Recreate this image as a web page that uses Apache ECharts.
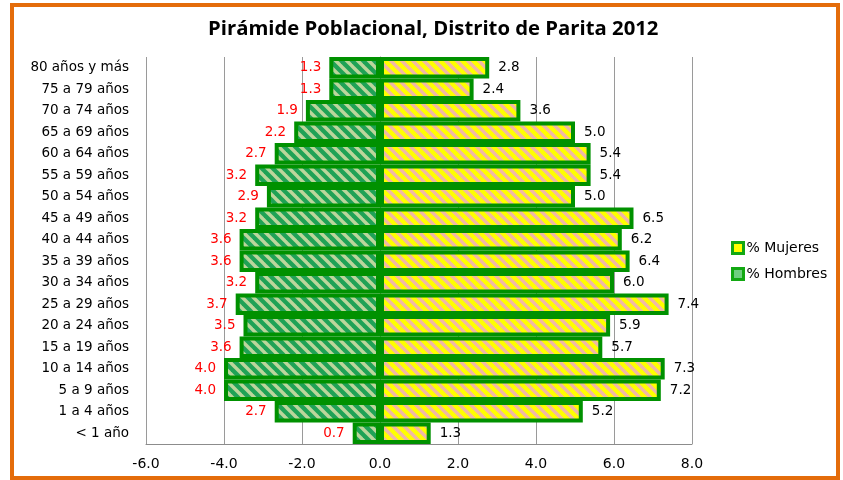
<!DOCTYPE html>
<html>
<head>
<meta charset="utf-8">
<script src="https://cdn.jsdelivr.net/npm/echarts@6/dist/echarts.min.js"></script>
<style>
  html, body { margin: 0; padding: 0; background: #fff; }
  #chart { width: 843px; height: 480px; }
</style>
</head>
<body>
<div id="chart"></div>
<script>
// age groups, bottom to top
const ageGroups = [
  "< 1 año", "1 a 4 años", "5 a 9 años", "10 a 14 años", "15 a 19 años",
  "20 a 24 años", "25 a 29 años", "30 a 34 años", "35 a 39 años", "40 a 44 años",
  "45 a 49 años", "50 a 54 años", "55 a 59 años", "60 a 64 años", "65 a 69 años",
  "70 a 74 años", "75 a 79 años", "80 años y más",
];
const hombres = [0.7, 2.7, 4.0, 4.0, 3.6, 3.5, 3.7, 3.2, 3.6, 3.6, 3.2, 2.9, 3.2, 2.7, 2.2, 1.9, 1.3, 1.3];
const mujeres = [1.3, 5.2, 7.2, 7.3, 5.7, 5.9, 7.4, 6.0, 6.4, 6.2, 6.5, 5.0, 5.4, 5.4, 5.0, 3.6, 2.4, 2.8];
const xTicks = [-6, -4, -2, 0, 2, 4, 6, 8];

const FONT = "'DejaVu Sans', sans-serif";
const GREEN = "#009100";

// diagonal hatch fill, stripes running top-left to bottom-right
function hatch(bg, stripe) {
  const size = 11;
  const c = document.createElement("canvas");
  c.width = size;
  c.height = size;
  const ctx = c.getContext("2d");
  ctx.fillStyle = bg;
  ctx.fillRect(0, 0, size, size);
  ctx.strokeStyle = stripe;
  ctx.lineWidth = 3.4;
  for (let k = -1; k <= 1; k++) {
    ctx.beginPath();
    ctx.moveTo(k * size - 2, -2);
    ctx.lineTo(k * size + size + 2, size + 2);
    ctx.stroke();
  }
  return { image: c, repeat: "repeat" };
}

const chart = echarts.init(document.getElementById("chart"));

chart.setOption({
  animation: false,
  title: {
    text: "Pirámide Poblacional, Distrito de Parita 2012",
    left: 203,
    top: 14,
    textStyle: { fontFamily: "'Open Sans', sans-serif", fontSize: 20.3, fontWeight: "bold", color: "#000" },
  },
  graphic: [{
    type: "rect",
    shape: { x: 12, y: 5, width: 826, height: 473 },
    style: { fill: "none", stroke: "#e46c0a", lineWidth: 4 },
    silent: true,
  }],
  legend: {
    orient: "vertical",
    left: 726,
    top: 236,
    itemGap: 12,
    itemWidth: 11,
    itemHeight: 11,
    icon: "rect",
    textStyle: { fontFamily: FONT, fontSize: 14, color: "#000", padding: [0, 0, 0, -2] },
    data: [
      { name: "% Mujeres", itemStyle: { color: "#ffff00", borderColor: "#12a812", borderWidth: 3 } },
      { name: "% Hombres", itemStyle: { color: "#6fcf7f", borderColor: "#12a812", borderWidth: 3 } },
    ],
  },
  grid: { left: 146, right: 151, top: 57, bottom: 36 },
  xAxis: {
    type: "value",
    min: xTicks[0],
    max: xTicks[xTicks.length - 1],
    interval: 2,
    axisLine: { show: true, lineStyle: { color: "#8c8c8c" } },
    axisTick: { show: false },
    axisLabel: {
      fontFamily: FONT, fontSize: 14, color: "#000", margin: 13,
      formatter: (v) => v.toFixed(1),
    },
    splitLine: { lineStyle: { color: "#9a9a9a" } },
  },
  yAxis: {
    type: "category",
    data: ageGroups,
    axisLine: { show: true, lineStyle: { color: "#8c8c8c" } },
    axisTick: { show: false },
    axisLabel: { fontFamily: FONT, fontSize: 13.5, color: "#000", margin: 17 },
  },
  series: [
    {
      name: "% Mujeres",
      type: "bar",
      data: mujeres,
      barCategoryGap: "0%",
      barGap: "-100%",
      itemStyle: { color: hatch("#ffff00", "#f0b8a6"), borderColor: GREEN, borderWidth: 4 },
      label: {
        show: true, position: "right", distance: 9,
        fontFamily: FONT, fontSize: 13.5, color: "#000",
        formatter: (p) => p.value.toFixed(1),
      },
    },
    {
      name: "% Hombres",
      type: "bar",
      data: hombres.map((v) => -v),
      barCategoryGap: "0%",
      barGap: "-100%",
      itemStyle: { color: hatch("#1fa256", "#bcd69b"), borderColor: GREEN, borderWidth: 4 },
      label: {
        show: true, position: "left", distance: 8,
        fontFamily: FONT, fontSize: 13.5, color: "#ff0000",
        formatter: (p) => Math.abs(p.value).toFixed(1),
      },
    },
  ],
});
</script>
</body>
</html>
